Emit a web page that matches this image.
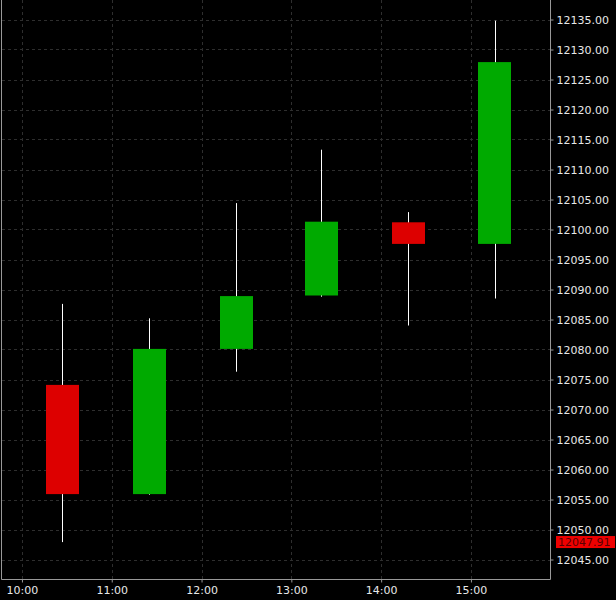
<!DOCTYPE html>
<html>
<head>
<meta charset="utf-8">
<script src="https://cdn.jsdelivr.net/npm/d3@7"></script>
<style>
  html, body { margin: 0; padding: 0; background: #000; }
  svg { display: block; }
  text { font-family: "DejaVu Sans", sans-serif; font-size: 11px; fill: #e8e8e8; }
</style>
</head>
<body>
<div id="root"></div>
<script>
const width = 616;
const height = 600;

// candle data
const times = ["10:27", "11:25", "12:23", "13:20", "14:18", "15:16"];
const opens = [12074.1, 12055.9, 12080.1, 12089.0, 12101.2, 12097.6];
const highs = [12087.6, 12085.2, 12104.4, 12113.3, 12102.9, 12134.8];
const lows = [12047.9, 12055.8, 12076.3, 12088.8, 12084.0, 12088.5];
const closes = [12055.9, 12080.1, 12088.9, 12101.3, 12097.6, 12127.9];

const hourTicks = ["10:00", "11:00", "12:00", "13:00", "14:00", "15:00"];
const priceTicks = d3.range(12045, 12136, 5);
const lastPrice = 12047.91;

const parseTime = d3.timeParse("%H:%M:%S");
const parseHM = d3.timeParse("%H:%M");

const candles = times.map((t, i) => ({
  time: parseHM(t),
  open: opens[i],
  high: highs[i],
  low: lows[i],
  close: closes[i],
}));

const plot = { left: 2, right: 550, top: 0, bottom: 579 };

const x = d3
  .scaleTime()
  .domain([parseTime("09:46:40"), parseTime("15:52:50")])
  .range([plot.left, plot.right]);

const y = d3
  .scaleLinear()
  .domain([12041.75, 12138.25])
  .range([plot.bottom, plot.top]);

const svg = d3
  .select("#root")
  .append("svg")
  .attr("width", width)
  .attr("height", height);

svg.append("rect").attr("width", width).attr("height", height).attr("fill", "#000");

// grid
const grid = svg.append("g").attr("stroke", "#2e2e2e").attr("stroke-dasharray", "3,3");
grid
  .selectAll("line.h")
  .data(priceTicks)
  .enter()
  .append("line")
  .attr("x1", plot.left)
  .attr("x2", plot.right)
  .attr("y1", (d) => Math.round(y(d)) + 0.5)
  .attr("y2", (d) => Math.round(y(d)) + 0.5);
grid
  .selectAll("line.v")
  .data(hourTicks.map((d) => parseHM(d)))
  .enter()
  .append("line")
  .attr("y1", plot.top)
  .attr("y2", plot.bottom)
  .attr("x1", (d) => Math.round(x(d)) + 0.5)
  .attr("x2", (d) => Math.round(x(d)) + 0.5);

// candles
const bodyHalf = 11 * 60 * 1000;
const candle = svg.selectAll("g.candle").data(candles).enter().append("g");

candle
  .append("line")
  .attr("stroke", "#fff")
  .attr("x1", (d) => Math.round(x(d.time)) + 0.5)
  .attr("x2", (d) => Math.round(x(d.time)) + 0.5)
  .attr("y1", (d) => y(d.high))
  .attr("y2", (d) => y(d.low));

candle
  .append("rect")
  .attr("fill", (d) => (d.close >= d.open ? "#00aa00" : "#dd0000"))
  .attr("x", (d) => Math.round(x(new Date(+d.time - bodyHalf))))
  .attr("width", (d) => Math.round(x(new Date(+d.time + bodyHalf)) - x(new Date(+d.time - bodyHalf))))
  .attr("y", (d) => y(Math.max(d.open, d.close)))
  .attr("height", (d) => Math.abs(y(d.open) - y(d.close)));

// axes
const yAxis = d3
  .axisRight(y)
  .tickValues(priceTicks)
  .tickSize(3)
  .tickPadding(3)
  .tickFormat(d3.format(".2f"));
const yg = svg
  .append("g")
  .attr("transform", `translate(${plot.right + 0.5},0)`)
  .call(yAxis);

const xAxis = d3
  .axisBottom(x)
  .tickValues(hourTicks.map((d) => parseHM(d)))
  .tickSize(3)
  .tickPadding(4)
  .tickFormat(d3.timeFormat("%H:%M"));
const xg = svg
  .append("g")
  .attr("transform", `translate(0,${plot.bottom + 0.5})`)
  .call(xAxis);

[yg, xg].forEach((g) => {
  g.select(".domain").remove();
  g.selectAll(".tick line").attr("stroke", "#999");
  g.selectAll("text").attr("fill", "#e8e8e8").attr("font-size", 11).attr("font-family", "DejaVu Sans");
});

// frame
svg
  .append("path")
  .attr("fill", "none")
  .attr("stroke", "#999")
  .attr("d", `M${plot.left - 0.5},${plot.top}V${plot.bottom + 0.5}H${plot.right + 0.5}V${plot.top}`);

// last price tag
const tag = svg.append("g").attr("transform", `translate(${plot.right + 6},${y(lastPrice)})`);
tag.append("rect").attr("x", 0).attr("y", -6).attr("width", 59).attr("height", 12).attr("fill", "#ee0000");
tag
  .append("text")
  .attr("x", 2)
  .attr("dy", "0.35em")
  .style("fill", "#5a0000")
  .text(d3.format(".2f")(lastPrice));
</script>
</body>
</html>
